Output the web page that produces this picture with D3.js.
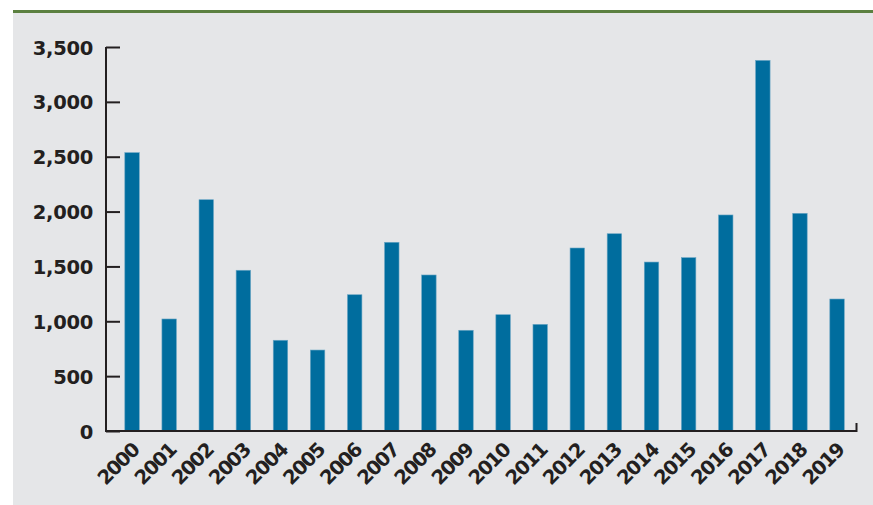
<!DOCTYPE html>
<html>
<head>
<meta charset="utf-8">
<script src="https://cdn.jsdelivr.net/npm/d3@7"></script>
<style>
	body { margin: 0; background: #ffffff; }
	text { font-family: "DejaVu Sans", sans-serif; font-weight: bold; fill: #231f20; }
</style>
</head>
<body>
<div id="chart"></div>
<script>
const years = ["2000", "2001", "2002", "2003", "2004", "2005", "2006", "2007", "2008", "2009",
	"2010", "2011", "2012", "2013", "2014", "2015", "2016", "2017", "2018", "2019"];
const values = [2537, 1021, 2108, 1465, 827, 738, 1242, 1720, 1422, 918,
	1060, 972, 1668, 1798, 1540, 1580, 1969, 3378, 1984, 1203];
const yTicks = [0, 500, 1000, 1500, 2000, 2500, 3000, 3500];

const width = 873, height = 505;

const svg = d3.select("#chart")
	.append("svg")
	.attr("width", width)
	.attr("height", height);

// panel background and green top rule
svg.append("rect")
	.attr("x", 13).attr("y", 11)
	.attr("width", width - 13).attr("height", height - 11)
	.attr("fill", "#e5e6e8");

svg.append("rect")
	.attr("x", 13).attr("y", 10)
	.attr("width", width - 13).attr("height", 3)
	.attr("fill", "#5b8040");

const x = d3.scaleBand()
	.domain(years)
	.range([113.5, 855.6])
	.paddingInner(0.61)
	.paddingOuter(0.305);

const y = d3.scaleLinear()
	.domain([0, 3500])
	.range([431, 47]);

// bars
svg.append("g")
	.selectAll("rect")
	.data(values)
	.join("rect")
	.attr("x", (d, i) => x(years[i]))
	.attr("y", (d) => y(d))
	.attr("width", x.bandwidth())
	.attr("height", (d) => y(0) - y(d))
	.attr("fill", "#006d9e")
	.attr("stroke", "#6aa6c4")
	.attr("stroke-width", 0.6);

// y axis
const yAxis = svg.append("g")
	.attr("transform", "translate(106,0)")
	.call(d3.axisRight(y).tickValues(yTicks).tickSize(14).tickFormat(d3.format(",")).tickSizeOuter(0));
yAxis.select(".domain").remove();
yAxis.selectAll("line").attr("stroke", "#231f20").attr("stroke-width", 2);
yAxis.selectAll("text")
	.attr("x", -13)
	.attr("dy", "0.36em")
	.attr("text-anchor", "end")
	.style("font-size", "19.5px")
	.style("letter-spacing", "-0.3px");

svg.append("line")
	.attr("x1", 106).attr("x2", 106)
	.attr("y1", 47).attr("y2", 432)
	.attr("stroke", "#231f20").attr("stroke-width", 2);

// x axis
svg.append("path")
	.attr("d", `M105,${y(0)}H856.5V${y(0) - 8}`)
	.attr("fill", "none")
	.attr("stroke", "#231f20")
	.attr("stroke-width", 2);

svg.append("g")
	.selectAll("text")
	.data(years)
	.join("text")
	.attr("transform", (d) => `translate(${x(d) + x.bandwidth() / 2 - 2},${y(0) + 10})rotate(-45)`)
	.attr("text-anchor", "end")
	.attr("dy", "0.75em")
	.style("font-size", "19.5px")
	.style("letter-spacing", "-1.3px")
	.text((d) => d);
</script>
</body>
</html>
